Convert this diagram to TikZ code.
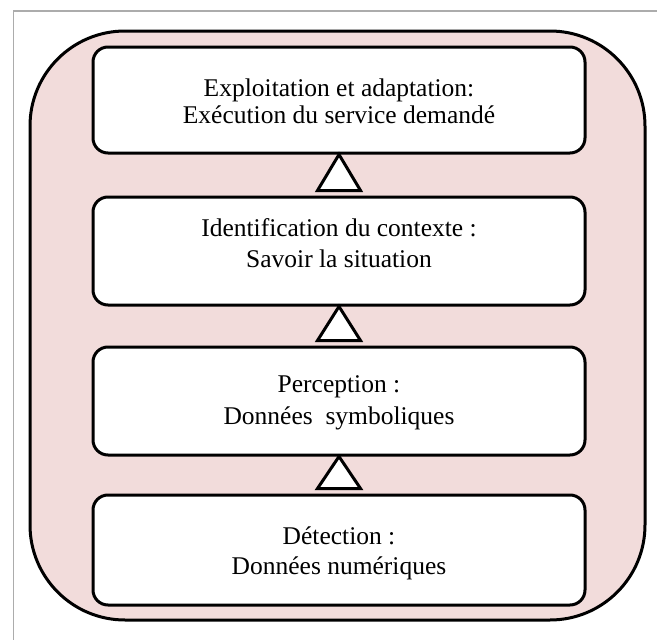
\documentclass[tikz,border=0pt]{standalone}
\usepackage{fontspec}
\setmainfont{Liberation Serif}
\definecolor{layerpink}{HTML}{F2DCDB}
\begin{document}
\begin{tikzpicture}[x=1pt,y=-1pt,
  frame/.style={draw=gray!65, line width=1.5pt},
  shell/.style={draw=black, line width=3pt, fill=layerpink, rounded corners=95pt},
  layer/.style={draw=black, line width=3pt, fill=white, rounded corners=15pt,
                minimum width=492pt, inner sep=0pt},
  caption/.style={align=center, inner sep=0pt},
  tri/.style={draw=black, line width=3pt, fill=white, line join=miter}]

\useasboundingbox (0,0) rectangle (657,640);

% page frame
\draw[frame] (13.5,640) -- (13.5,11) -- (657,11);

% enclosing shell
\draw[shell] (30,31) rectangle (645,620);

% the four layers
\node[layer, minimum height=106pt] (b1) at (339,100) {};
\node[layer, minimum height=108pt] (b2) at (339,251) {};
\node[layer, minimum height=108pt] (b3) at (339,401) {};
\node[layer, minimum height=110pt] (b4) at (339,550) {};

% layer captions
\node[caption, font=\fontsize{25.5}{27}\selectfont, yshift=-1.5pt] (t1) at (b1.center)
  {Exploitation et adaptation:\\Exécution du service demandé};
\node[caption, font=\fontsize{25.5}{31}\selectfont, yshift=8pt] (t2) at (b2.center)
  {Identification du contexte :\\Savoir la situation};
\node[caption, font=\fontsize{25.5}{32}\selectfont, yshift=-2pt] (t3) at (b3.center)
  {Perception :\\Données\ \ symboliques};
\node[caption, font=\fontsize{25.5}{30}\selectfont, yshift=-3pt] (t4) at (b4.center)
  {Détection :\\Données numériques};

% hollow triangles linking each layer to the one above
\draw[tri] (b1.south) -- ([xshift=21.5pt,yshift=5pt]b2.north)
  -- ([xshift=-21.5pt,yshift=5pt]b2.north) -- cycle;
\draw[tri] (b2.south) -- ([xshift=21.5pt,yshift=5pt]b3.north)
  -- ([xshift=-21.5pt,yshift=5pt]b3.north) -- cycle;
\draw[tri] (b3.south) -- ([xshift=21.5pt,yshift=5pt]b4.north)
  -- ([xshift=-21.5pt,yshift=5pt]b4.north) -- cycle;
\end{tikzpicture}
\end{document}
